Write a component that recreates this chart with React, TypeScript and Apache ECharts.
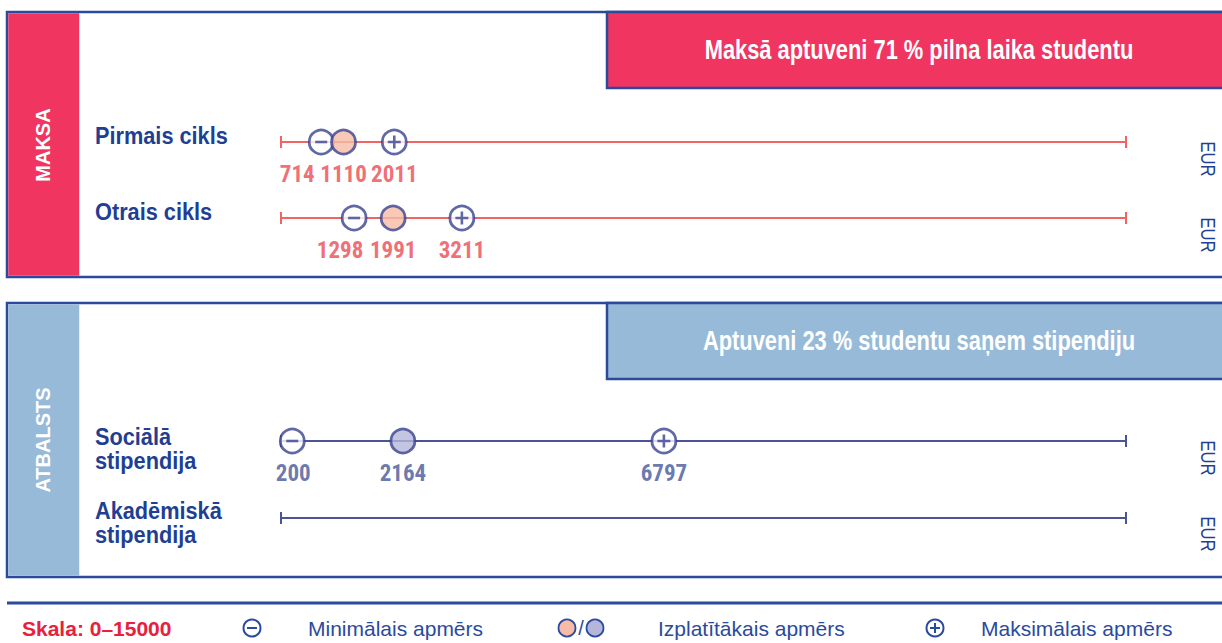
import React, { useEffect, useRef } from "react";
import * as echarts from "echarts";

// ---- data ----
const rowNames = ["Pirmais cikls", "Otrais cikls", "Sociālā\nstipendija", "Akadēmiskā\nstipendija"];
const minValues: (number | null)[] = [714, 1298, 200, null];
const typicalValues: (number | null)[] = [1110, 1991, 2164, null];
const maxValues: (number | null)[] = [2011, 3211, 6797, null];
const scaleMin = 0;
const scaleMax = 15000;
const panelTitles = ["MAKSA", "ATBALSTS"];
const panelHeaders = ["Maksā aptuveni 71 % pilna laika studentu", "Aptuveni 23 % studentu saņem stipendiju"];
const currency = "EUR";
const scaleLabel = "Skala: 0–15000";
const legendLabels = ["Minimālais apmērs", "Izplatītākais apmērs", "Maksimālais apmērs"];

// ---- layout / style ----
const rowPanel = [0, 0, 1, 1];
const rowY = [142, 218, 441, 518];
const rowLabelY = [136, 212, 449, 523];
const eurY = [159, 235, 458, 534];
const labelShift = [
  [-24, 0, 0],
  [-14, 0, 0],
  [1, 0, 0],
];
const panelTop = [12, 303];
const panelBottom = [277, 577];
const AX_LEFT = 281;
const AX_RIGHT = 1126;

const BORDER = "#2b4a9b";
const bandColors = ["#ef3560", "#98bad9"];
const lineColors = ["#f06464", "#4b5399"];
const valueColors = ["#ec4852", "#45569a"];
const typicalFills = ["#f8bba5", "#b4b6da"];
const MARK = "#3a4290";
const LABEL_BLUE = "#1f3f93";
const COND = "'Roboto Condensed', 'Open Sans Condensed', sans-serif";
const SANS = "'Liberation Sans', Arial, sans-serif";
const PLUS = "path://M0,4H10V6H0Z M4,0H6V10H4Z";

export default function App() {
  const ref = useRef<HTMLDivElement>(null);
  useEffect(() => {
    document.body.style.margin = "0";
    if (!ref.current) return;
    const chart = echarts.init(ref.current, undefined, { renderer: "svg" });

    const grids: any[] = [];
    const xAxes: any[] = [];
    const yAxes: any[] = [];
    const series: any[] = [];

    rowNames.forEach((name, i) => {
      const p = rowPanel[i];
      grids.push({ left: AX_LEFT, width: AX_RIGHT - AX_LEFT, top: rowY[i] - 10, height: 20 });
      xAxes.push({ gridIndex: i, type: "value", min: scaleMin, max: scaleMax, show: false });
      yAxes.push({ gridIndex: i, type: "category", data: [name], show: false });
      series.push({
        type: "line",
        xAxisIndex: i,
        yAxisIndex: i,
        data: [
          [scaleMin, name],
          [scaleMax, name],
        ],
        symbol: "rect",
        symbolSize: [2, 12],
        clip: false,
        silent: true,
        itemStyle: { color: lineColors[p] },
        lineStyle: { color: lineColors[p], width: 2 },
        z: 2,
      });
      const lbl = (shift: number) => ({
        show: true,
        position: "bottom",
        distance: 8,
        offset: [shift, 0],
        formatter: (pr: any) => String(pr.value[0]),
        fontFamily: COND,
        fontWeight: "bold",
        fontSize: 23,
        color: valueColors[p],
      });
      const circle = (v: number, fill: string, z: number, shift: number) => ({
        type: "scatter",
        xAxisIndex: i,
        yAxisIndex: i,
        data: [[v, name]],
        symbol: "circle",
        symbolSize: 24,
        clip: false,
        silent: true,
        itemStyle: { color: fill, borderColor: MARK, borderWidth: 2.8 },
        label: lbl(shift),
        z,
      });
      const mn = minValues[i];
      const ty = typicalValues[i];
      const mx = maxValues[i];
      if (mn != null) {
        series.push(circle(mn, "#ffffff", 3, labelShift[i][0]));
        series.push({
          type: "scatter",
          xAxisIndex: i,
          yAxisIndex: i,
          data: [[mn, name]],
          symbol: "rect",
          symbolSize: [12, 2.6],
          clip: false,
          silent: true,
          itemStyle: { color: MARK },
          z: 4,
        });
      }
      if (ty != null) series.push(circle(ty, typicalFills[p], 5, labelShift[i][1]));
      if (mx != null) {
        series.push(circle(mx, "#ffffff", 5, labelShift[i][2]));
        series.push({
          type: "scatter",
          xAxisIndex: i,
          yAxisIndex: i,
          data: [[mx, name]],
          symbol: PLUS,
          symbolSize: 13,
          clip: false,
          silent: true,
          itemStyle: { color: MARK },
          z: 6,
        });
      }
    });

    const graphics: any[] = [];
    panelTitles.forEach((t, p) => {
      const top = panelTop[p];
      const h = panelBottom[p] - top;
      graphics.push({ type: "rect", shape: { x: 7, y: top, width: 1230, height: h }, style: { fill: "#ffffff", stroke: BORDER, lineWidth: 2.5 }, z: 0 });
      graphics.push({ type: "rect", shape: { x: 8.25, y: top + 1.25, width: 71, height: h - 2.5 }, style: { fill: bandColors[p] }, z: 1 });
      graphics.push({ type: "rect", shape: { x: 607, y: top, width: 630, height: 76 }, style: { fill: bandColors[p], stroke: BORDER, lineWidth: 2.5 }, z: 1 });
      graphics.push({
        type: "text",
        x: 919,
        y: top + 38,
        scaleX: 0.81,
        style: { text: panelHeaders[p], fill: "#ffffff", font: `bold 27px ${SANS}`, textAlign: "center", textVerticalAlign: "middle" },
        z: 2,
      });
      graphics.push({
        type: "text",
        x: 43,
        y: p === 0 ? 145 : 440,
        rotation: Math.PI / 2,
        style: { text: t, fill: "#ffffff", font: `bold 20px ${SANS}`, textAlign: "center", textVerticalAlign: "middle" },
        z: 2,
      });
    });
    rowNames.forEach((name, i) => {
      graphics.push({
        type: "text",
        x: 95,
        y: rowLabelY[i],
        scaleX: 0.945,
        style: { text: name, fill: LABEL_BLUE, font: `bold 23px ${SANS}`, lineHeight: 24, textAlign: "left", textVerticalAlign: "middle" },
        z: 2,
      });
      graphics.push({
        type: "text",
        x: 1208,
        y: eurY[i],
        rotation: -Math.PI / 2,
        scaleX: 0.8,
        style: { text: currency, fill: LABEL_BLUE, font: `21px ${SANS}`, textAlign: "center", textVerticalAlign: "middle" },
        z: 2,
      });
    });

    // legend
    const LY = 628;
    const LBLUE = "#2a4aa0";
    graphics.push({ type: "line", shape: { x1: 7, y1: 603, x2: 1222, y2: 603 }, style: { stroke: BORDER, lineWidth: 3 } });
    graphics.push({ type: "text", x: 22, y: LY, style: { text: scaleLabel, fill: "#e8203c", font: `bold 21px ${SANS}`, textAlign: "left", textVerticalAlign: "middle" } });
    graphics.push({ type: "circle", shape: { cx: 252, cy: LY, r: 8.5 }, style: { fill: "none", stroke: LBLUE, lineWidth: 2 } });
    graphics.push({ type: "line", shape: { x1: 247, y1: LY, x2: 257, y2: LY }, style: { stroke: LBLUE, lineWidth: 2 } });
    graphics.push({ type: "text", x: 308, y: LY, style: { text: legendLabels[0], fill: LBLUE, font: `21px ${SANS}`, textAlign: "left", textVerticalAlign: "middle" } });
    graphics.push({ type: "circle", shape: { cx: 567, cy: LY, r: 8.5 }, style: { fill: typicalFills[0], stroke: LBLUE, lineWidth: 1.8 } });
    graphics.push({ type: "text", x: 581, y: LY, style: { text: "/", fill: LBLUE, font: `20px ${SANS}`, textAlign: "center", textVerticalAlign: "middle" } });
    graphics.push({ type: "circle", shape: { cx: 595, cy: LY, r: 8.5 }, style: { fill: typicalFills[1], stroke: LBLUE, lineWidth: 1.8 } });
    graphics.push({ type: "text", x: 658, y: LY, style: { text: legendLabels[1], fill: LBLUE, font: `21px ${SANS}`, textAlign: "left", textVerticalAlign: "middle" } });
    graphics.push({ type: "circle", shape: { cx: 935, cy: LY, r: 8.5 }, style: { fill: "none", stroke: LBLUE, lineWidth: 2 } });
    graphics.push({ type: "line", shape: { x1: 930, y1: LY, x2: 940, y2: LY }, style: { stroke: LBLUE, lineWidth: 2 } });
    graphics.push({ type: "line", shape: { x1: 935, y1: LY - 5, x2: 935, y2: LY + 5 }, style: { stroke: LBLUE, lineWidth: 2 } });
    graphics.push({ type: "text", x: 981, y: LY, style: { text: legendLabels[2], fill: LBLUE, font: `21px ${SANS}`, textAlign: "left", textVerticalAlign: "middle" } });

    chart.setOption({
      animation: false,
      backgroundColor: "#ffffff",
      grid: grids,
      xAxis: xAxes,
      yAxis: yAxes,
      series,
      graphic: { elements: graphics },
    });
    return () => chart.dispose();
  }, []);
  return <div ref={ref} style={{ width: 1222, height: 643 }} />;
}
